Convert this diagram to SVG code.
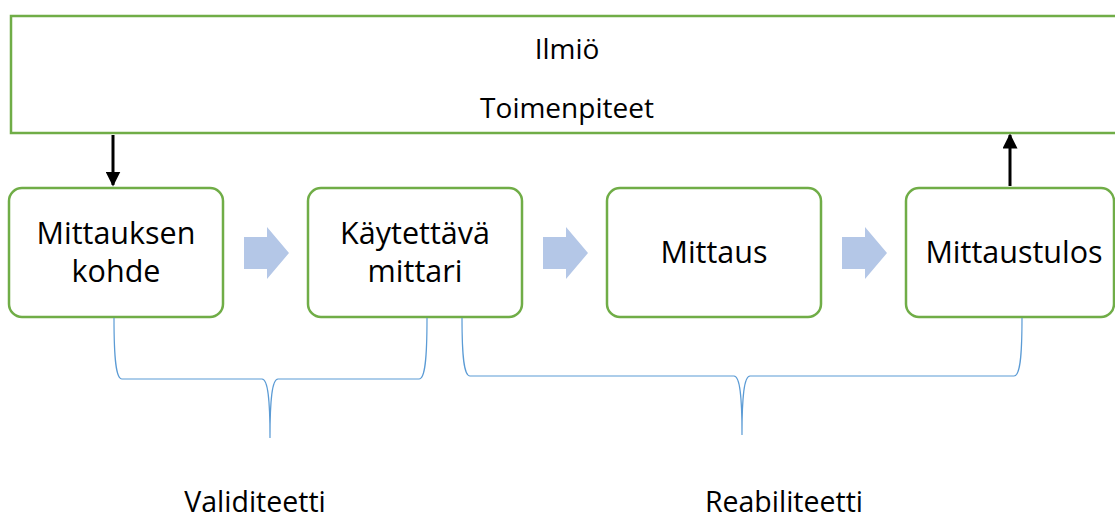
<svg xmlns="http://www.w3.org/2000/svg" width="1115" height="519" viewBox="0 0 1115 519">
<style>
.box{fill:#fff;stroke:#70ad47;stroke-width:2.5}
.t{font-family:"Open Sans","Liberation Sans",sans-serif;fill:#000;text-anchor:middle}
.nt{font-size:30.5px}
.tt{font-size:28px}
.bt{font-size:28.5px}
.blk{fill:#b4c7e7}
.br{fill:none;stroke:#5b9bd5;stroke-width:1.2}
.ar{stroke:#000;stroke-width:3;fill:none}
</style>
<defs>
<marker id="ah" viewBox="0 0 10 10" refX="9" refY="5" markerWidth="5" markerHeight="5" orient="auto" markerUnits="strokeWidth">
<path d="M0,0 L10,5 L0,10 z" fill="#000"/>
</marker>
</defs>
<g id="top">
<rect class="box" x="11" y="16" width="1110" height="117"/>
<text class="t tt" x="567" y="59">Ilmiö</text>
<text class="t tt" x="567" y="118">Toimenpiteet</text>
</g>
<g id="n1">
<rect class="box" x="9" y="188" width="214" height="129" rx="13"/>
<text class="t nt" x="116" y="244"><tspan x="116" y="244">Mittauksen</tspan><tspan x="116" y="282">kohde</tspan></text>
</g>
<g id="n2">
<rect class="box" x="308" y="188" width="214" height="129" rx="13"/>
<text class="t nt" x="415" y="244"><tspan x="415" y="244">Käytettävä</tspan><tspan x="415" y="282">mittari</tspan></text>
</g>
<g id="n3">
<rect class="box" x="607" y="188" width="214" height="129" rx="13"/>
<text class="t nt" x="714" y="263">Mittaus</text>
</g>
<g id="n4">
<rect class="box" x="906" y="188" width="208" height="129" rx="13"/>
<text class="t nt" x="1014" y="263">Mittaustulos</text>
</g>
<g id="connectors">
<line class="ar" x1="113" y1="135" x2="113" y2="185" marker-end="url(#ah)"/>
<line class="ar" x1="1010" y1="186" x2="1010" y2="135" marker-end="url(#ah)"/>
<path class="blk" d="M244,237 H267 V227 L289,253 L267,279 V269 H244 Z"/>
<path class="blk" d="M543,237 H566 V227 L588,253 L566,279 V269 H543 Z"/>
<path class="blk" d="M842,237 H865 V227 L887,253 L865,279 V269 H842 Z"/>
<path class="br" d="M114,318 C114,360 116,379 122,379 H262 C268,379 270,400 270,438 C270,400 272,379 278,379 H419 C425,379 427,360 427,318"/>
<path class="br" d="M462,318 C462,358 464,376 470,376 H734 C740,376 742,397 742,435 C742,397 744,376 750,376 H1014 C1020,376 1022,358 1022,318"/>
</g>
<g id="labels">
<text class="t bt" x="255" y="512">Validiteetti</text>
<text class="t bt" x="784" y="512">Reabiliteetti</text>
</g>
</svg>
